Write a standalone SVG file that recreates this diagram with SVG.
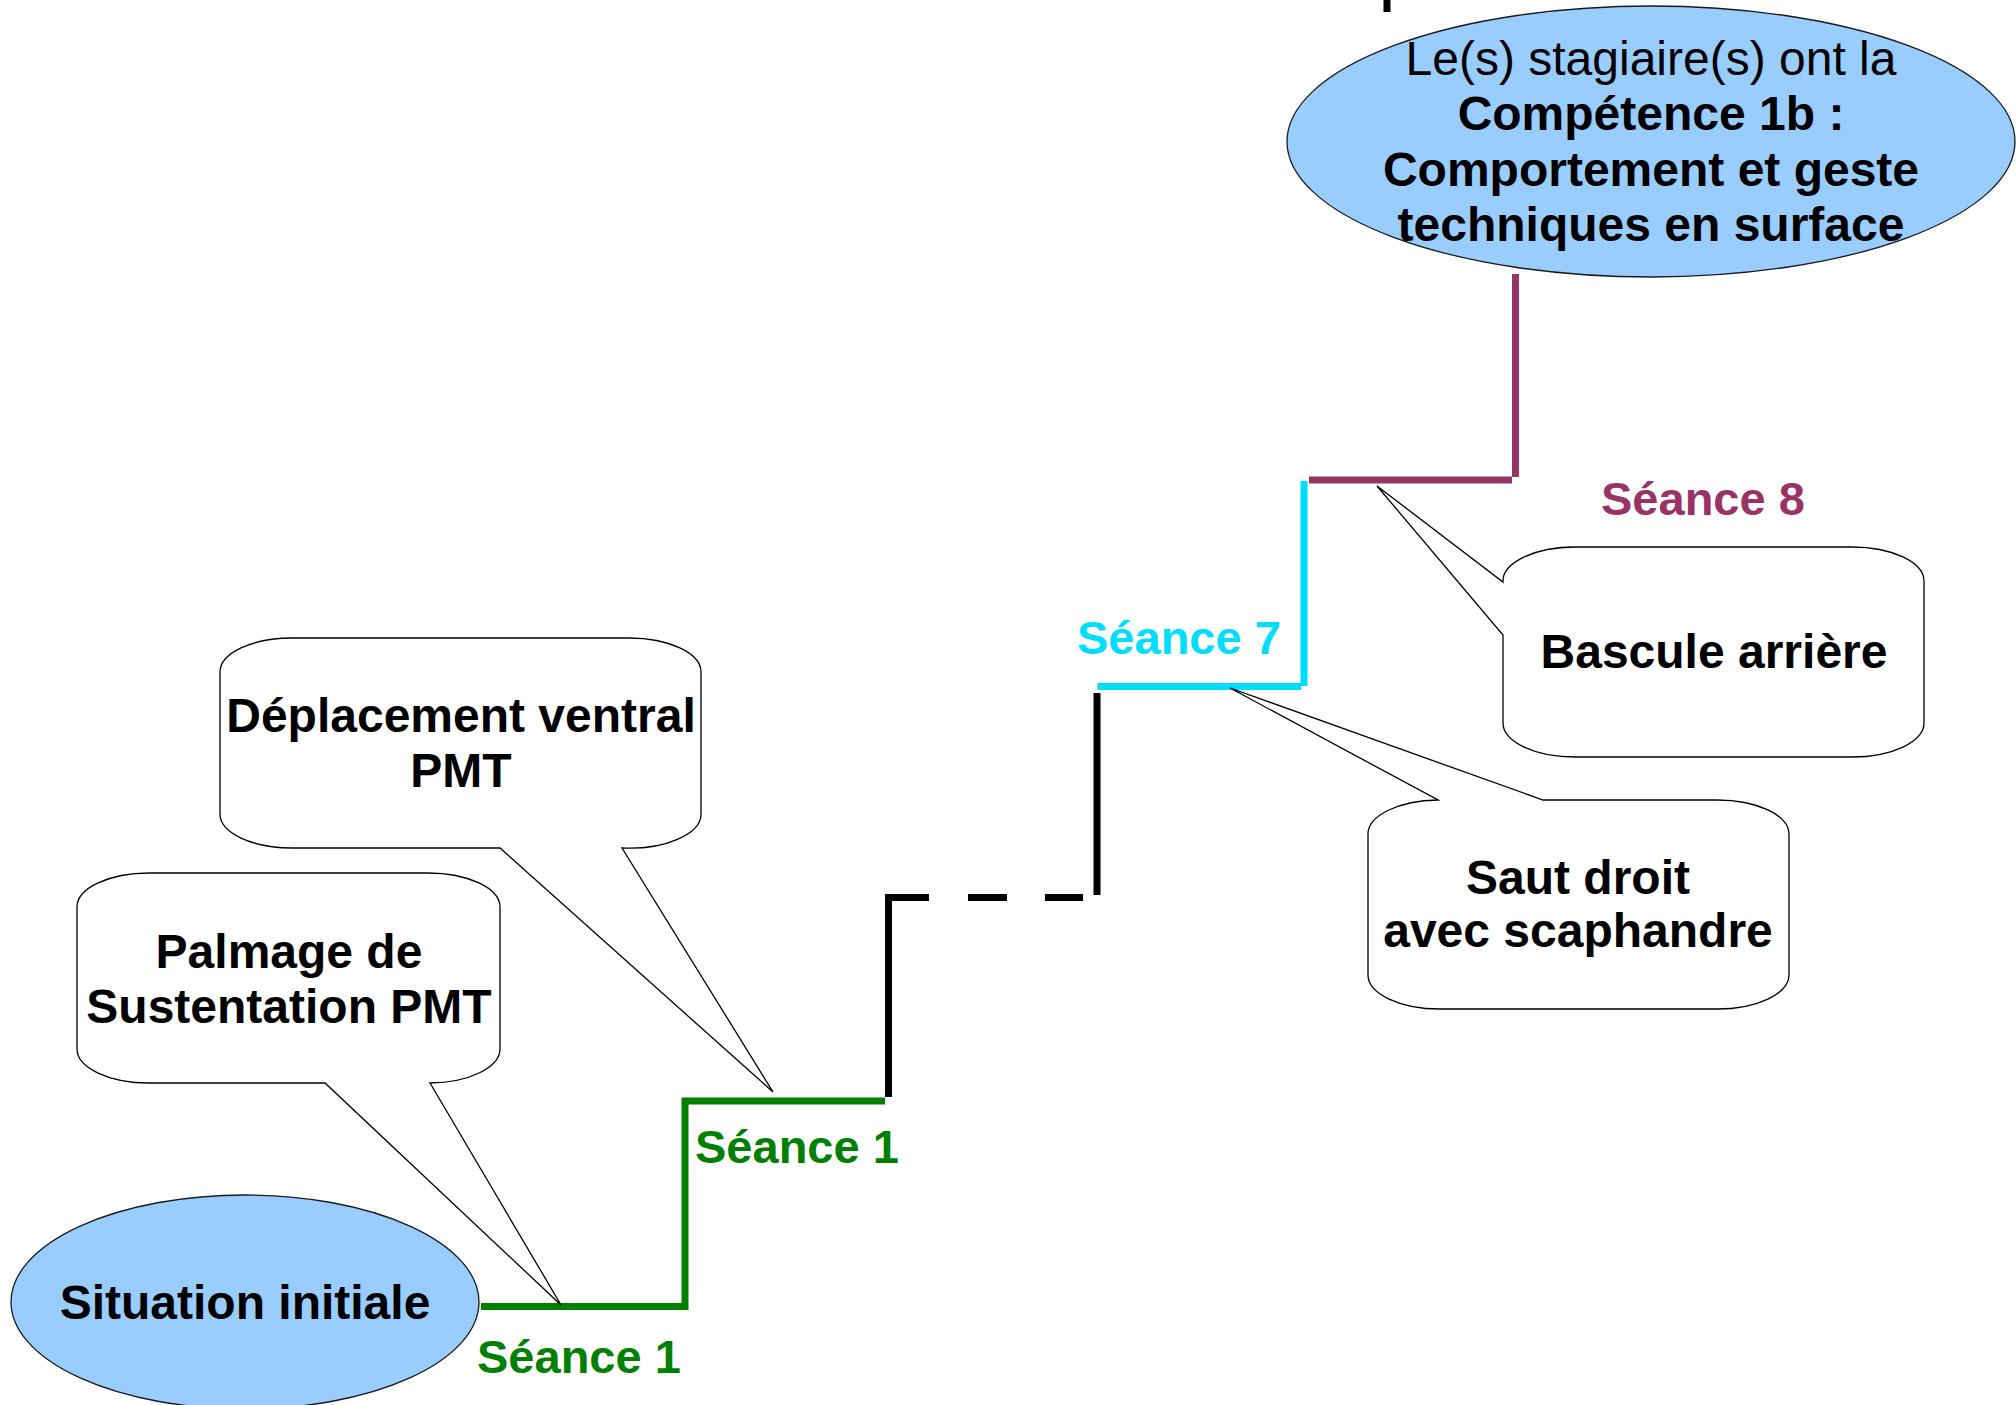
<svg xmlns="http://www.w3.org/2000/svg" width="2016" height="1405" viewBox="0 0 2016 1405">
<style>
.bg{fill:#ffffff}
.oval{fill:#99ccff;stroke:#1a1a1a;stroke-width:1.3}
.call{fill:#ffffff;stroke:#000000;stroke-width:1.3;stroke-linejoin:miter}
.t{font-family:"Liberation Sans",Arial,sans-serif;font-size:48px;font-weight:bold;fill:#000;text-anchor:middle}
.tn{font-family:"Liberation Sans",Arial,sans-serif;font-size:48px;font-weight:normal;fill:#000;text-anchor:middle}
.tb{font-family:"Liberation Sans",Arial,sans-serif;font-size:48px;font-weight:bold;fill:#000;text-anchor:middle}
.s{font-family:"Liberation Sans",Arial,sans-serif;font-size:47px;font-weight:bold}
.step{fill:none;stroke-width:7;stroke-linecap:butt;stroke-linejoin:miter}
</style>
<rect class="bg" x="0" y="0" width="2016" height="1405"/>

<g id="connectors">
  <path class="step" stroke="#008000" d="M481,1306.5 H685 V1101 H885"/>
  <path class="step" stroke="#000000" d="M888.5,1097 V897.5 H929"/>
  <path class="step" stroke="#000000" d="M968,897.5 H1007"/>
  <path class="step" stroke="#000000" d="M1045,897.5 H1083"/>
  <path class="step" stroke="#000000" d="M1097,895 V693"/>
  <path class="step" stroke="#00ddff" d="M1097.5,686.5 H1301"/>
  <path class="step" stroke="#00ddff" d="M1304,686 V481"/>
  <path class="step" stroke="#993366" d="M1309,480 H1512"/>
  <path class="step" stroke="#993366" d="M1515.5,477 V274"/>
  <path class="step" stroke="#000000" d="M1387,0 V12"/>
</g>

<g id="node-competence">
  <ellipse class="oval" cx="1651" cy="141.5" rx="364" ry="135.5"/>
  <text class="tn" x="1651" y="75">Le(s) stagiaire(s) ont la</text>
  <text class="tb" x="1651" y="130">Compétence 1b :</text>
  <text class="tb" x="1651" y="186">Comportement et geste</text>
  <text class="tb" x="1651" y="241">techniques en surface</text>
</g>

<g id="node-situation">
  <ellipse class="oval" cx="245" cy="1302" rx="234" ry="107"/>
  <text class="t" x="245" y="1319">Situation initiale</text>
</g>

<g id="node-palmage">
  <path class="call" d="M149,873 H428 A72,34 0 0 1 500,907 V1049 A72,34 0 0 1 430,1083 L561,1305 L325,1083 H149 A72,34 0 0 1 77,1049 V907 A72,34 0 0 1 149,873 Z"/>
  <text class="t" x="289" y="968">Palmage de</text>
  <text class="t" x="289" y="1023">Sustentation PMT</text>
</g>

<g id="node-deplacement">
  <path class="call" d="M292,638 H629 A72,34 0 0 1 701,672 V814 A72,34 0 0 1 622,848 L773,1092 L500,848 H292 A72,34 0 0 1 220,814 V672 A72,34 0 0 1 292,638 Z"/>
  <text class="t" x="461" y="732">Déplacement ventral</text>
  <text class="t" x="461" y="787">PMT</text>
</g>

<g id="node-saut">
  <path class="call" d="M1368,834 A72,34 0 0 1 1438,800 L1230,688 L1543,800 H1717 A72,34 0 0 1 1789,834 V975 A72,34 0 0 1 1717,1009 H1440 A72,34 0 0 1 1368,975 Z"/>
  <text class="t" x="1578" y="894">Saut droit</text>
  <text class="t" x="1578" y="947">avec scaphandre</text>
</g>

<g id="node-bascule">
  <path class="call" d="M1575,547 H1852 A72,34 0 0 1 1924,581 V723 A72,34 0 0 1 1852,757 H1575 A72,34 0 0 1 1503,723 V635 L1377,486 L1503,582 A72,34 0 0 1 1575,547 Z"/>
  <text class="t" x="1714" y="668">Bascule arrière</text>
</g>

<g id="labels">
  <text class="s" x="477" y="1373" fill="#008000">Séance 1</text>
  <text class="s" x="695" y="1163" fill="#008000">Séance 1</text>
  <text class="s" x="1077" y="654" fill="#00ddff">Séance 7</text>
  <text class="s" x="1601" y="515" fill="#993366">Séance 8</text>
</g>
</svg>
